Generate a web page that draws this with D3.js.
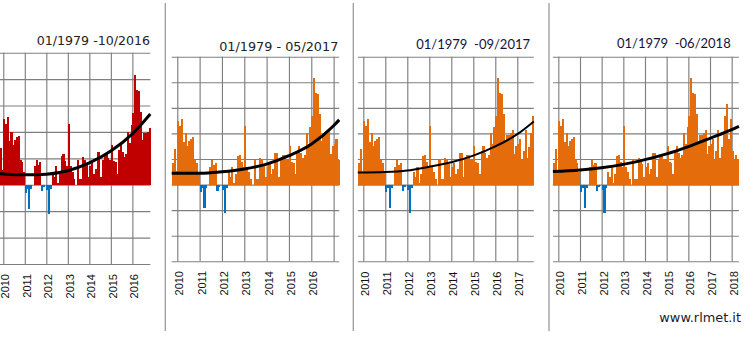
<!DOCTYPE html>
<html>
<head>
<meta charset="utf-8">
<script src="https://cdn.jsdelivr.net/npm/d3@7"></script>
<style>
  html, body { margin: 0; padding: 0; background: #fff; }
  svg { display: block; }
</style>
</head>
<body>
<svg id="chart" width="754" height="341"></svg>
<script>
// Monthly temperature anomalies (°C), first value = October 2009
const firstMonth = 2009 + 9 / 12;
const anomalies = [
  // 2009 Oct-Dec
  0.17, 0.28, 0.11,
  // 2010
  0.50, 0.46, 0.51, 0.33, 0.40, 0.30, 0.34, 0.36, 0.37, 0.19, 0.17, 0.10,
  // 2011
  -0.06, -0.03, -0.18, -0.03, 0.00, 0.14, 0.19, 0.15, 0.17, -0.05, -0.02, 0.00,
  // 2012
  -0.04, -0.22, -0.03, 0.10, 0.06, 0.14, 0.01, 0.08, 0.22, 0.23, 0.18, 0.14,
  // 2013
  0.46, 0.14, 0.10, 0.04, 0.00, 0.19, 0.04, 0.04, 0.21, 0.19, 0.16, 0.06,
  // 2014
  0.14, 0.17, 0.08, 0.12, 0.25, 0.25, 0.06, 0.19, 0.23, 0.23, 0.20, 0.19,
  // 2015
  0.30, 0.18, 0.17, 0.08, 0.26, 0.30, 0.25, 0.21, 0.23, 0.40, 0.32, 0.45,
  // 2016
  0.54, 0.83, 0.72, 0.71, 0.55, 0.34, 0.39, 0.39, 0.40, 0.43, 0.24, 0.30,
  // 2017
  0.32, 0.36, 0.19, 0.26, 0.43, 0.21, 0.29, 0.40, 0.54, 0.63, 0.36, 0.51,
  // 2018 Jan-Apr
  0.26, 0.20, 0.23, 0.20
];

const yearTicks = [2010, 2011, 2012, 2013, 2014, 2015, 2016, 2017, 2018];
const valueTicks = [-0.6, -0.4, -0.2, 0, 0.2, 0.4, 0.6, 0.8, 1.0];

const panelTitles = ["01/1979 -10/2016", "01/1979 - 05/2017", "01/1979  -09/2017", "01/1979  -06/2018"];
const panelMonths = [85, 90, 96, 103];          // months shown in each panel
const panelLastLabel = [2016, 2016, 2017, 2018]; // last year that gets a label

// Long-term polynomial trend, sampled along the visible window
const trendYears1 = [2009.75, 2010, 2011, 2012, 2013, 2014, 2015, 2016, 2016.833];
const trendValues1 = [0.086, 0.082, 0.075, 0.080, 0.106, 0.165, 0.255, 0.385, 0.536];
const trendYears2 = [2009.75, 2011, 2012, 2013, 2014, 2015, 2016, 2017, 2017.25];
const trendValues2 = [0.088, 0.088, 0.100, 0.122, 0.160, 0.226, 0.316, 0.460, 0.506];
const trendYears3 = [2009.75, 2011, 2012, 2013, 2014, 2015, 2016, 2017, 2017.75];
const trendValues3 = [0.094, 0.098, 0.110, 0.140, 0.174, 0.226, 0.298, 0.394, 0.494];
const trendYears4 = [2009.75, 2011, 2012, 2013, 2014, 2015, 2016, 2017, 2018, 2018.333];
const trendValues4 = [0.102, 0.114, 0.132, 0.158, 0.195, 0.240, 0.297, 0.362, 0.430, 0.456];

const trendYears = [trendYears1, trendYears2, trendYears3, trendYears4];
const trendValues = [trendValues1, trendValues2, trendValues3, trendValues4];

// Panel geometry and styling
const panels = [
  { left: -2.1,  right: 150.3, top: 52.7, bottom: 264.0, warm: "#C00000", lw: 3.0,
    titleX: 150.0, titleY: 44.5, titleFont: "'DejaVu Sans', Verdana, sans-serif", titleSize: 12.6, titleColor: "#222", labelTop: 274 },
  { left: 171.7, right: 339.2, top: 56.7, bottom: 261.3, warm: "#E46C0A", lw: 3.0,
    titleX: 338.3, titleY: 50.5, titleFont: "'DejaVu Sans', Verdana, sans-serif", titleSize: 12.8, titleColor: "#222", labelTop: 271 },
  { left: 357.8, right: 533.8, top: 56.7, bottom: 261.3, warm: "#E46C0A", lw: 2.0,
    titleX: 530.0, titleY: 49.3, titleFont: "Lato, 'Open Sans', sans-serif", titleSize: 13, titleColor: "#14143a", labelTop: 271.5 },
  { left: 552.9, right: 738.9, top: 56.7, bottom: 261.3, warm: "#E46C0A", lw: 3.0,
    titleX: 730.7, titleY: 48.3, titleFont: "Lato, 'Open Sans', sans-serif", titleSize: 13, titleColor: "#14143a", labelTop: 271 }
];
const coldColor = "#0070C0";
const gridColor = "#7f7f7f";

const svg = d3.select("#chart");

// Vertical separators between panels
[165.3, 353.3, 549.0].forEach(xs => {
  svg.append("line")
    .attr("x1", xs).attr("x2", xs).attr("y1", 3).attr("y2", 331)
    .attr("stroke", "#9a9a9a").attr("stroke-width", 1.3);
});

panels.forEach((p, pi) => {
  const n = panelMonths[pi];
  const values = anomalies.slice(0, n);
  const x = d3.scaleLinear().domain([firstMonth, firstMonth + n / 12]).range([p.left, p.right]);
  const y = d3.scaleLinear().domain([-0.6, 1.0]).range([p.bottom, p.top]);
  const g = svg.append("g");

  // horizontal gridlines
  const yAxis = d3.axisLeft(y).tickValues(valueTicks).tickSize(-(p.right - p.left)).tickFormat("");
  g.append("g").attr("transform", `translate(${p.left},0)`).call(yAxis)
    .call(s => s.select(".domain").remove())
    .call(s => s.selectAll(".tick line").attr("stroke", gridColor).attr("stroke-width", 1.15));

  // vertical gridlines at each January
  const years = yearTicks.filter(t => t >= x.domain()[0] && t <= x.domain()[1]);
  const xAxis = d3.axisBottom(x).tickValues(years).tickSize(-(p.bottom - p.top)).tickFormat("");
  g.append("g").attr("transform", `translate(0,${p.bottom})`).call(xAxis)
    .call(s => s.select(".domain").remove())
    .call(s => s.selectAll(".tick line").attr("stroke", gridColor).attr("stroke-width", 1.15));

  // monthly bars
  g.append("g").attr("shape-rendering", "crispEdges")
    .selectAll("rect").data(values).join("rect")
    .attr("x", (d, i) => x(firstMonth + i / 12))
    .attr("width", (d, i) => x(firstMonth + (i + 1) / 12) - x(firstMonth + i / 12) + 0.3)
    .attr("y", d => y(Math.max(0, d)))
    .attr("height", d => Math.abs(y(d) - y(0)))
    .attr("fill", d => d >= 0 ? p.warm : coldColor);

  // trend curve
  const pts = trendYears[pi].map((t, i) => [t, trendValues[pi][i]]);
  g.append("path")
    .attr("d", d3.line().x(d => x(d[0])).y(d => y(d[1])).curve(d3.curveMonotoneX)(pts))
    .attr("fill", "none").attr("stroke", "#000").attr("stroke-width", p.lw)
    .attr("stroke-linecap", "butt");

  // rotated year labels
  g.append("g").selectAll("text").data(years.filter(t => t <= panelLastLabel[pi])).join("text")
    .attr("transform", d => `translate(${x(d) + 6},${p.labelTop}) rotate(-90)`)
    .attr("text-anchor", "end")
    .attr("font-family", "'Liberation Sans', Arial, sans-serif")
    .attr("font-size", 11)
    .attr("fill", "#111")
    .text(d => d);

  // period title
  g.append("text")
    .attr("x", p.titleX).attr("y", p.titleY)
    .attr("text-anchor", "end")
    .attr("font-family", p.titleFont)
    .attr("font-size", p.titleSize)
    .attr("fill", p.titleColor)
    .style("white-space", "pre")
    .text(panelTitles[pi]);
});

// site credit
svg.append("text")
  .attr("x", 741).attr("y", 322)
  .attr("text-anchor", "end")
  .attr("font-family", "'DejaVu Sans', Verdana, sans-serif")
  .attr("font-size", 12.9)
  .attr("fill", "#1a1a2e")
  .text("www.rlmet.it");
</script>
</body>
</html>
